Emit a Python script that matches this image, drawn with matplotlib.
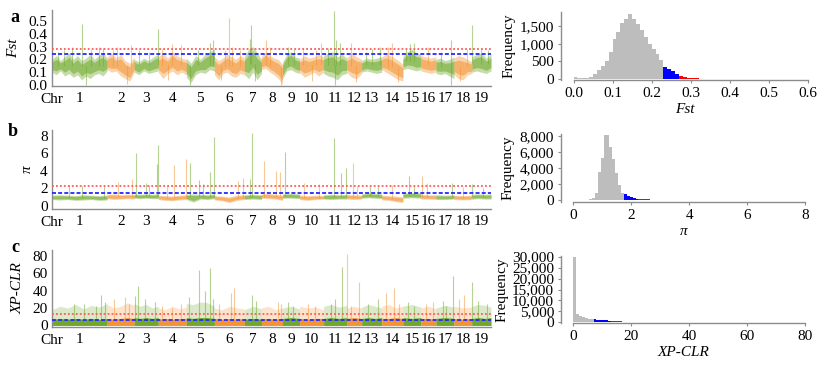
import numpy as np
import matplotlib
matplotlib.use('Agg')
import matplotlib.pyplot as plt

plt.rcParams['font.family'] = ['Liberation Serif', 'DejaVu Serif']

# chromosome lengths (Mb, read from the widths of the coloured blocks)
chr_names = [str(i) for i in range(1, 20)]
chr_len = [50.5, 24.8, 22.0, 25.7, 25.7, 27.5, 15.6, 19.3, 15.6, 22.0,
           21.1, 13.8, 18.4, 19.3, 16.5, 13.8, 16.5, 16.5, 17.4]

# panel a: Fst band (upper / lower edge along each chromosome)
fst_hi = [[0.20, 0.23, 0.19, 0.22, 0.25, 0.20, 0.23, 0.19, 0.21, 0.24, 0.20, 0.23, 0.25, 0.21],
          [0.22, 0.25, 0.21, 0.24, 0.19, 0.17, 0.22],
          [0.20, 0.18, 0.21, 0.19, 0.22, 0.24],
          [0.22, 0.25, 0.21, 0.26, 0.23, 0.21, 0.20],
          [0.21, 0.17, 0.23, 0.20, 0.24, 0.26, 0.28],
          [0.22, 0.19, 0.21, 0.24, 0.22, 0.20, 0.23, 0.21],
          [0.22, 0.28, 0.30, 0.25, 0.20],
          [0.22, 0.26, 0.23, 0.21, 0.20, 0.16],
          [0.18, 0.24, 0.26, 0.22, 0.21],
          [0.20, 0.23, 0.21, 0.22, 0.24, 0.22],
          [0.23, 0.25, 0.26, 0.22, 0.24, 0.21],
          [0.21, 0.25, 0.22, 0.20],
          [0.19, 0.21, 0.20, 0.21, 0.22],
          [0.22, 0.24, 0.23, 0.21, 0.19, 0.16],
          [0.22, 0.26, 0.28, 0.25, 0.24],
          [0.23, 0.22, 0.21, 0.22],
          [0.20, 0.21, 0.19, 0.20, 0.22],
          [0.21, 0.23, 0.22, 0.20, 0.18],
          [0.22, 0.24, 0.25, 0.21, 0.24]]
fst_lo = [[0.10, 0.08, 0.11, 0.07, 0.09, 0.06, 0.08, 0.04, 0.07, 0.05, 0.08, 0.09, 0.07, 0.11],
          [0.12, 0.10, 0.11, 0.07, 0.05, 0.03, 0.10],
          [0.10, 0.08, 0.11, 0.09, 0.10, 0.11],
          [0.10, 0.05, 0.09, 0.11, 0.08, 0.10, 0.08],
          [0.06, 0.02, 0.08, 0.10, 0.09, 0.12, 0.11],
          [0.08, 0.04, 0.09, 0.10, 0.07, 0.06, 0.09, 0.08],
          [0.08, 0.05, 0.10, 0.04, 0.09],
          [0.12, 0.13, 0.10, 0.08, 0.05, 0.01],
          [0.05, 0.11, 0.12, 0.10, 0.09],
          [0.10, 0.06, 0.08, 0.10, 0.07, 0.10],
          [0.09, 0.07, 0.06, 0.04, 0.08, 0.09],
          [0.10, 0.06, 0.05, 0.09],
          [0.10, 0.11, 0.10, 0.09, 0.10],
          [0.12, 0.10, 0.08, 0.06, 0.04, 0.03],
          [0.12, 0.13, 0.12, 0.11, 0.12],
          [0.11, 0.10, 0.09, 0.10],
          [0.09, 0.08, 0.09, 0.07, 0.05],
          [0.08, 0.05, 0.04, 0.08, 0.09],
          [0.10, 0.11, 0.10, 0.09, 0.11]]
# single windows sticking out of the band: (chromosome, position along it, value)
fst_peaks = [(1, 0.10, 0.26), (1, 0.22, 0.27), (1, 0.36, 0.30), (1, 0.55, 0.48), (1, 0.61, 0.00),
             (1, 0.70, 0.27), (1, 0.85, 0.30), (1, 0.93, 0.29),
             (2, 0.20, 0.27), (2, 0.38, 0.30), (2, 0.75, 0.01), (2, 0.88, 0.31),
             (3, 0.20, 0.27), (3, 0.60, 0.26), (3, 0.98, 0.44),
             (4, 0.15, 0.28), (4, 0.35, 0.04), (4, 0.50, 0.32), (4, 0.80, 0.31),
             (5, 0.12, 0.00), (5, 0.40, 0.27), (5, 0.85, 0.33), (5, 0.95, 0.35),
             (6, 0.22, 0.04), (6, 0.35, 0.27), (6, 0.50, 0.52), (6, 0.60, 0.30), (6, 0.85, 0.27),
             (7, 0.30, 0.36), (7, 0.40, 0.47), (7, 0.60, 0.03),
             (8, 0.20, 0.35), (8, 0.40, 0.30), (8, 0.95, 0.00),
             (9, 0.30, 0.30), (9, 0.70, 0.28),
             (10, 0.15, 0.28), (10, 0.50, 0.03), (10, 0.70, 0.27), (10, 0.90, 0.33),
             (11, 0.20, 0.29), (11, 0.45, 0.58), (11, 0.48, 0.00), (11, 0.55, 0.35), (11, 0.70, 0.33),
             (12, 0.30, 0.33), (12, 0.60, 0.02),
             (13, 0.20, 0.26), (13, 0.50, 0.28), (13, 0.90, 0.30),
             (14, 0.30, 0.30), (14, 0.50, 0.33), (14, 0.75, 0.02),
             (15, 0.20, 0.29), (15, 0.40, 0.32), (15, 0.60, 0.33),
             (16, 0.50, 0.30),
             (17, 0.30, 0.26), (17, 0.85, 0.35), (17, 0.86, 0.00),
             (18, 0.35, 0.03), (18, 0.70, 0.28),
             (19, 0.02, 0.47), (19, 0.50, 0.28), (19, 0.85, 0.27)]

# panel b: pi band
pi_hi = [[1.20, 1.25, 1.20, 1.15, 1.25, 1.20, 1.15, 1.20],
         [1.30, 1.35, 1.25, 1.30, 1.30],
         [1.35, 1.30, 1.35, 1.30, 1.35],
         [1.20, 1.15, 1.10, 1.20, 1.25],
         [1.30, 1.35, 1.30, 1.25, 1.35],
         [1.15, 1.10, 1.00, 1.20, 1.25],
         [1.25, 1.30, 1.25],
         [1.35, 1.40, 1.30, 1.20],
         [1.35, 1.40, 1.35],
         [1.20, 1.15, 1.20, 1.15],
         [1.25, 1.30, 1.25, 1.30],
         [1.30, 1.25, 1.20],
         [1.35, 1.45, 1.40, 1.35],
         [1.20, 1.15, 1.10, 1.00],
         [1.45, 1.50, 1.45],
         [1.30, 1.25, 1.25],
         [1.25, 1.20, 1.25],
         [1.20, 1.15, 1.20],
         [1.30, 1.35, 1.30, 1.35]]
pi_lo = [[0.70, 0.65, 0.70, 0.60, 0.65, 0.70, 0.60, 0.65],
         [0.80, 0.70, 0.75, 0.80, 0.75],
         [0.85, 0.80, 0.85, 0.80, 0.80],
         [0.70, 0.60, 0.55, 0.65, 0.70],
         [0.70, 0.40, 0.75, 0.70, 0.80],
         [0.65, 0.55, 0.35, 0.60, 0.70],
         [0.70, 0.75, 0.70],
         [0.85, 0.80, 0.75, 0.60],
         [0.85, 0.85, 0.80],
         [0.70, 0.60, 0.70, 0.75],
         [0.75, 0.70, 0.75, 0.75],
         [0.75, 0.70, 0.75],
         [0.85, 0.90, 0.85, 0.80],
         [0.65, 0.60, 0.45, 0.35],
         [0.85, 0.90, 0.85],
         [0.75, 0.75, 0.70],
         [0.70, 0.70, 0.75],
         [0.70, 0.65, 0.70],
         [0.75, 0.80, 0.75, 0.75]]
pi_peaks = [(1, 0.30, 2.4), (1, 0.55, 2.3), (1, 0.95, 2.2),
            (2, 0.40, 2.7), (2, 0.90, 3.1),
            (3, 0.07, 6.0), (3, 0.47, 2.6), (3, 0.60, 2.4), (3, 0.95, 4.8), (3, 0.99, 6.9),
            (4, 0.30, 2.2), (4, 0.55, 4.6), (4, 0.98, 5.3),
            (5, 0.12, 4.9), (5, 0.44, 2.9), (5, 0.60, 2.5), (5, 0.85, 3.8), (5, 0.99, 7.9),
            (6, 0.80, 2.8), (6, 0.96, 3.2),
            (7, 0.30, 3.1), (7, 0.45, 8.3),
            (8, 0.10, 5.1), (8, 0.70, 4.0), (8, 0.90, 3.9),
            (9, 0.15, 6.1),
            (10, 0.20, 2.6), (10, 0.80, 2.5),
            (11, 0.45, 7.7), (11, 0.75, 3.7), (11, 0.98, 4.3),
            (12, 0.40, 4.9), (12, 0.70, 2.3),
            (13, 0.40, 2.3), (13, 0.80, 2.2),
            (14, 0.50, 2.4),
            (15, 0.35, 3.4), (15, 0.60, 2.2),
            (16, 0.05, 3.4), (16, 0.40, 2.6),
            (17, 0.90, 2.6),
            (18, 0.50, 2.1),
            (19, 0.02, 2.5), (19, 0.60, 2.0)]

# panel c: XP-CLR, solid lower part and pale upper part of each block
xp_core = [[7, 8, 7, 8, 7, 8, 7, 8], [8, 7, 8, 9, 8], [9, 8, 9, 8, 9], [7, 8, 7, 8, 8],
           [9, 8, 9, 9, 8], [8, 7, 8, 7, 8], [7, 8, 7], [8, 8, 7, 8], [8, 9, 8],
           [8, 7, 8, 8], [8, 9, 8, 9], [8, 9, 8], [8, 9, 8, 9], [8, 8, 9, 8],
           [9, 8, 9], [8, 8, 7], [8, 9, 8], [8, 7, 8], [8, 9, 8, 9]]
xp_pale = [[18, 22, 20, 24, 19, 23, 21, 25], [24, 20, 22, 26, 23], [25, 22, 24, 20, 22],
           [20, 18, 22, 19, 21], [25, 24, 27, 26, 22], [20, 18, 22, 20, 19], [18, 22, 19],
           [20, 22, 18, 20], [20, 22, 19], [22, 20, 21, 18], [22, 24, 21, 23], [20, 22, 20],
           [21, 24, 22, 20], [22, 24, 20, 22], [22, 24, 21], [20, 22, 19], [20, 23, 21],
           [22, 20, 21], [22, 24, 23, 21]]
xp_peaks = [(1, 0.40, 25), (1, 0.58, 25), (1, 0.80, 22), (1, 0.88, 35), (1, 0.97, 27),
            (2, 0.25, 30), (2, 0.65, 33), (2, 0.80, 25),
            (3, 0.05, 34), (3, 0.15, 45), (3, 0.45, 30), (3, 0.85, 27),
            (4, 0.15, 22), (4, 0.50, 20), (4, 0.80, 25),
            (5, 0.08, 33), (5, 0.45, 63), (5, 0.65, 40), (5, 0.85, 66), (5, 0.95, 30),
            (6, 0.15, 25), (6, 0.55, 37), (6, 0.65, 43),
            (7, 0.45, 35), (7, 0.70, 28),
            (8, 0.80, 27), (8, 0.95, 25),
            (9, 0.30, 27), (9, 0.60, 22),
            (10, 0.35, 25), (10, 0.65, 22),
            (11, 0.30, 25), (11, 0.48, 30), (11, 0.80, 67),
            (12, 0.05, 82), (12, 0.30, 22), (12, 0.82, 50),
            (13, 0.30, 25), (13, 0.80, 30),
            (14, 0.20, 37), (14, 0.60, 43), (14, 0.80, 25),
            (15, 0.30, 27), (15, 0.60, 22),
            (16, 0.35, 25), (16, 0.80, 27),
            (17, 0.40, 28), (17, 0.55, 22), (17, 0.93, 57),
            (18, 0.30, 30), (18, 0.55, 35),
            (19, 0.02, 50), (19, 0.30, 28), (19, 0.80, 25)]

# threshold lines in the genome scans (blue = top 5 %, red = top 1 %)
line_blue = [0.24, 1.45, 5.8]
line_red = [0.28, 2.2, 13.4]

# histograms
fst_bin_start, fst_bin_w = 0.0, 0.01
fst_counts = [50, 15, 15, 25, 60, 130, 250, 370, 520, 780,
              1150, 1350, 1580, 1720, 1840, 1720, 1560, 1400, 1200, 1000,
              850, 700, 530, 350, 290, 230, 150, 90, 55, 35,
              22, 15, 10, 8, 6, 5, 4, 4, 3, 3,
              3, 2, 2, 2, 2, 2, 2, 1, 1, 1,
              1, 1, 1, 1, 1, 1, 1, 1, 1, 1]
pi_bin_start, pi_bin_w = 0.45, 0.1
pi_counts = [10, 30, 200, 850, 3500, 5300, 8200, 8200, 6700, 5200,
             3400, 1900, 850, 700, 450, 300, 180, 110, 70, 50,
             40, 30, 25, 20, 16, 14, 12, 10, 9, 8,
             7, 6, 5, 5, 4, 4, 3, 3, 3, 2]
xp_bin_start, xp_bin_w = 0.0, 1.0
xp_counts = [30000, 3600, 3000, 2500, 2100, 1750, 1450, 1300, 1200, 1100,
             1000, 900, 800, 700, 600, 500, 420, 350, 300, 250,
             200, 170, 140, 120, 100, 85, 70, 60, 50, 45,
             40, 35, 30, 25, 20, 18, 15, 12, 10, 8]
hist_blue = [0.235, 1.78, 6.8]
hist_red = [0.275, 2.3, 13.4]

green = '#6fa82a'
orange = '#f29433'
grey = '#8c8c8c'
FS = 11

starts = np.concatenate([[0], np.cumsum(chr_len)[:-1]])
total = sum(chr_len)
mids = starts + np.array(chr_len) / 2

W, H = 830, 365
fig = plt.figure(figsize=(W / 100, H / 100), dpi=100)


def px_axes(l, t, r, b):
    return fig.add_axes([l / W, 1 - b / H, (r - l) / W, (b - t) / H])


def style(ax):
    for s in ['top', 'right']:
        ax.spines[s].set_visible(False)
    for s in ['left', 'bottom']:
        ax.spines[s].set_color(grey)
        ax.spines[s].set_linewidth(1.0)
    ax.tick_params(labelsize=FS, colors='black', length=0, pad=3)


def scan(ax, k, hi, lo, peaks, ylim, yticks, ylabel, ylab_x):
    for i, L in enumerate(chr_len):
        col = green if i % 2 == 0 else orange
        x = np.linspace(starts[i], starts[i] + L, len(hi[i]))
        h, l = np.array(hi[i], float), np.array(lo[i], float)
        if lo is xp_core:
            # XP-CLR: pale bars up to hi, solid block up to lo
            ax.fill_between(x, 0, h, color=col, alpha=0.25, lw=0)
            ax.fill_between(x, 0, l, color=col, alpha=1.0, lw=0)
        else:
            d = (h - l) * 0.2
            ax.fill_between(x, l, h, color=col, alpha=0.4, lw=0)
            ax.fill_between(x, l + d, h - d, color=col, alpha=0.55, lw=0)
    for c, f, v in peaks:
        i = c - 1
        col = green if i % 2 == 0 else orange
        base = 0 if lo is xp_core else np.mean(hi[i]) * 0.5 + np.mean(lo[i]) * 0.5
        ax.vlines(starts[i] + f * chr_len[i], base, v, color=col, lw=0.8, alpha=0.5)
    ax.axhline(line_red[k], color='#ff5a5a', lw=1.3, ls=(0, (1, 1.2)), zorder=4)
    ax.axhline(line_blue[k], color='#2828ff', lw=1.3, ls=(0, (2.2, 1.2)), zorder=4)
    ax.set_xlim(0, total)
    ax.set_ylim(*ylim)
    ax.set_yticks(yticks)
    ax.set_xticks(mids)
    ax.set_xticklabels(chr_names)
    style(ax)
    ax.tick_params(axis='x', pad=4)
    ax.text(0, -0.09, 'Chr', transform=ax.get_xaxis_transform(), ha='center', va='top',
            fontsize=FS)
    ax.set_ylabel(ylabel, fontsize=FS, style='italic')
    ax.yaxis.set_label_coords(ylab_x, 0.5)


def hist(ax, k, start, width, counts, xlim, ylim, xticks, yticks, xlabel, ylab_x):
    counts = np.array(counts, float)
    left = start + width * np.arange(len(counts))
    centre = left + width / 2
    cols = np.where(centre >= hist_red[k], '#ff0000',
                    np.where(centre >= hist_blue[k], '#0000ff', '#bdbdbd'))
    ax.bar(left, counts, width=width, align='edge', color=cols, lw=0)
    ax.set_xlim(*xlim)
    ax.set_ylim(*ylim)
    style(ax)
    ax.tick_params(length=2, color=grey)
    ax.spines['bottom'].set_bounds(xticks[0], xticks[-1])
    ax.set_xticks(xticks)
    ax.set_yticks(yticks)
    ax.set_yticklabels(['{:,}'.format(t) for t in yticks])
    ax.set_xlabel(xlabel, fontsize=FS, style='italic', labelpad=2)
    ax.set_ylabel('Frequency', fontsize=FS)
    ax.yaxis.set_label_coords(ylab_x, 0.5)


ax = px_axes(52, 10, 491, 86)
scan(ax, 0, fst_hi, fst_lo, fst_peaks, (-0.008, 0.586),
     [0.0, 0.1, 0.2, 0.3, 0.4, 0.5], 'Fst', -0.072)
ax.set_yticklabels(['0.0', '0.1', '0.2', '0.3', '0.4', '0.5'])

ax = px_axes(52, 130, 491, 209)
scan(ax, 1, pi_hi, pi_lo, pi_peaks, (-0.38, 8.65), [0, 2, 4, 6, 8], 'π', -0.042)

ax = px_axes(52, 250, 491, 327)
scan(ax, 2, xp_pale, xp_core, xp_peaks, (-1.8, 86.5), [0, 20, 40, 60, 80], 'XP-CLR', -0.062)

ax = px_axes(561, 12, 808, 80)
hist(ax, 0, fst_bin_start, fst_bin_w, fst_counts, (-0.032, 0.6), (-28, 1905),
     [0.0, 0.1, 0.2, 0.3, 0.4, 0.5, 0.6], [0, 500, 1000, 1500], 'Fst', -0.185)
ax.set_xticklabels(['0.0', '0.1', '0.2', '0.3', '0.4', '0.5', '0.6'])

ax = px_axes(561, 134, 807, 202)
hist(ax, 1, pi_bin_start, pi_bin_w, pi_counts, (-0.42, 8.06), (-290, 8300),
     [0, 2, 4, 6, 8], [0, 2000, 4000, 6000, 8000], 'π', -0.19)

ax = px_axes(561, 256, 806, 323)
hist(ax, 2, xp_bin_start, xp_bin_w, xp_counts, (-4.26, 80.5), (-300, 30300),
     [0, 20, 40, 60, 80], [0, 5000, 10000, 15000, 20000, 25000, 30000], 'XP-CLR', -0.215)

for letter, x, y in [('a', 15, 17), ('b', 13, 131), ('c', 15, 248)]:
    fig.text(x / W, 1 - y / H, letter, fontsize=13, fontweight='bold', ha='center', va='center')

fig.savefig('out.png', dpi=100)
